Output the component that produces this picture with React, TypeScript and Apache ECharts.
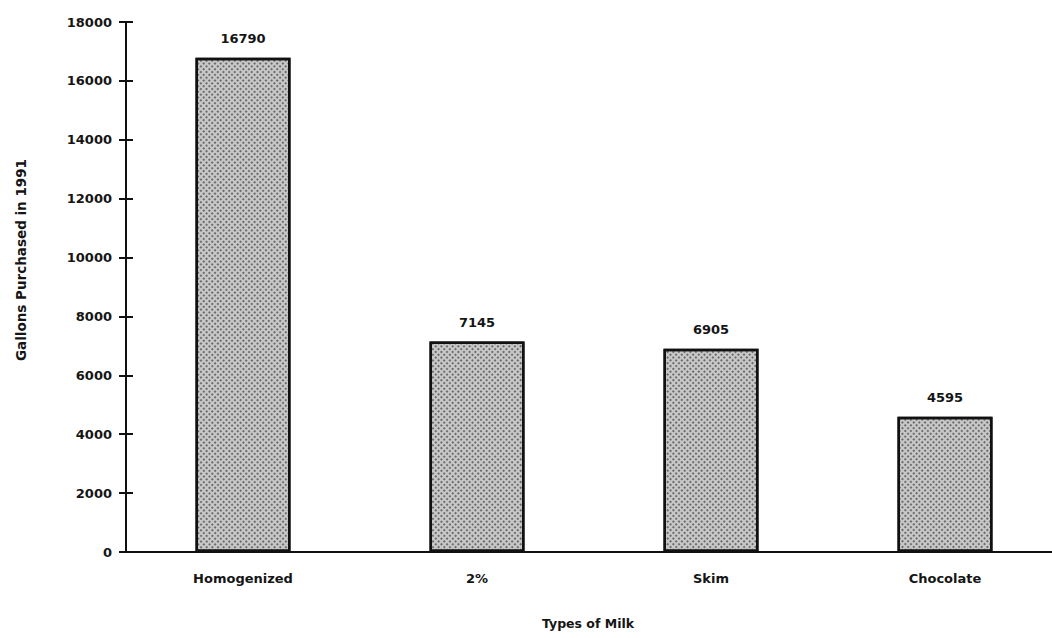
import React, { useEffect, useRef } from "react";
import * as echarts from "echarts";

const categories = ["Homogenized", "2%", "Skim", "Chocolate"];
const gallons = [16790, 7145, 6905, 4595];
const yTitle = "Gallons Purchased in 1991";
const xTitle = "Types of Milk";

export default function App() {
  const ref = useRef<HTMLDivElement>(null);
  useEffect(() => {
    const chart = echarts.init(ref.current!, null, { renderer: "svg" });
    const font = { fontFamily: "DejaVu Sans, sans-serif", fontWeight: "bold" as const, color: "#151515" };
    chart.setOption({
      animation: false,
      backgroundColor: "#ffffff",
      grid: { left: 126, right: 0, top: 22, bottom: 86, containLabel: false },
      xAxis: {
        type: "category",
        data: categories,
        axisLine: { lineStyle: { color: "#111", width: 2 } },
        axisTick: { show: false },
        axisLabel: { ...font, fontSize: 13, margin: 20 },
      },
      yAxis: [
        {
          type: "value",
          min: 0,
          max: 18000,
          interval: 2000,
          axisLine: { show: true, lineStyle: { color: "#111", width: 2 } },
          axisTick: { show: true, length: 7, lineStyle: { color: "#111", width: 2 } },
          axisLabel: { ...font, fontSize: 13, margin: 14, formatter: (v: number) => String(v) },
          splitLine: { show: false },
        },
        {
          type: "value",
          position: "left",
          min: 0,
          max: 18000,
          interval: 2000,
          axisLine: { show: false },
          axisTick: { show: true, inside: true, length: 7, lineStyle: { color: "#111", width: 2 } },
          axisLabel: { show: false },
          splitLine: { show: false },
        },
      ],
      series: [
        {
          type: "bar",
          data: gallons,
          barWidth: 95,
          itemStyle: {
            color: "#c8c8c8",
            borderColor: "#111",
            borderWidth: 2.5,
            decal: {
              symbol: "rect",
              symbolSize: 1,
              color: "rgba(70,70,70,0.7)",
              dashArrayX: [[2, 2]],
              dashArrayY: [2, 2],
              rotation: 0.785,
            },
          },
          label: { show: true, position: "top", distance: 13, ...font, fontSize: 13 },
        },
      ],
      graphic: [
        {
          type: "text",
          x: 21,
          y: 260,
          rotation: Math.PI / 2,
          style: {
            text: yTitle,
            fontFamily: "DejaVu Sans, sans-serif",
            fontWeight: "bold",
            fontSize: 13.5,
            fill: "#151515",
            align: "center",
            verticalAlign: "middle",
          },
        },
        {
          type: "text",
          x: 588,
          y: 623,
          style: {
            text: xTitle,
            fontFamily: "DejaVu Sans, sans-serif",
            fontWeight: "bold",
            fontSize: 12.5,
            fill: "#151515",
            align: "center",
            verticalAlign: "middle",
          },
        },
      ],
    });
    return () => chart.dispose();
  }, []);
  return (
    <div
      style={{ position: "fixed", left: 0, top: 0, width: 1052, height: 638, overflow: "hidden", background: "#fff" }}
    >
      <div ref={ref} style={{ width: 1062, height: 638 }} />
    </div>
  );
}
